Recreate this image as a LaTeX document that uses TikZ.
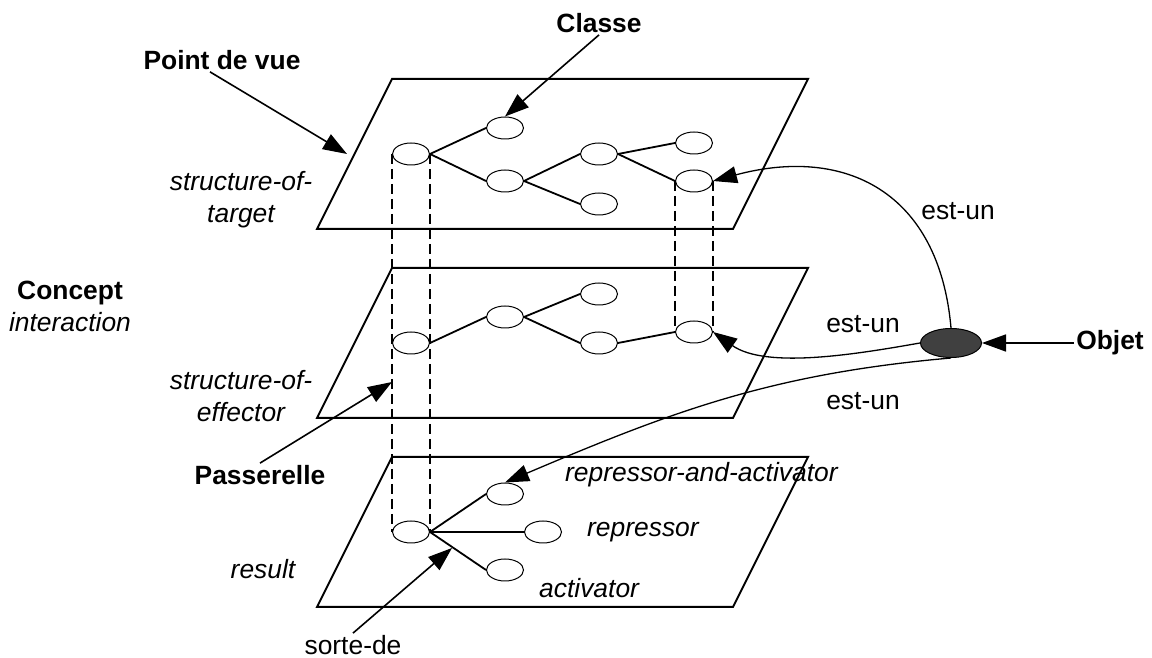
\documentclass[tikz,border=0pt]{standalone}
\usepackage{fontspec}
\setmainfont{Liberation Sans}
\usetikzlibrary{arrows.meta,shapes.geometric}
\tikzset{
  cls/.style={draw, ellipse, line width=1pt, minimum width=37pt, minimum height=22pt, inner sep=0pt},
  plane/.style={line width=2pt, line join=miter},
  edge/.style={line width=1.8pt},
  bridge/.style={line width=1.8pt, dash pattern=on 10pt off 5pt},
  arr/.style={->, line width=1.6pt},
  txt/.style={inner sep=2pt, font=\fontsize{26.4}{32}\selectfont},
  bold/.style={txt, font=\fontsize{26.4}{32}\selectfont\bfseries},
  ital/.style={txt, font=\fontsize{26.4}{32}\selectfont\itshape},
}
\begin{document}
\begin{tikzpicture}[>={Triangle[length=24pt,width=17pt]}, x=1pt, y=1pt]
\useasboundingbox (0,0) rectangle (1152,658);
\foreach \yy in {429,240,51}
  \draw[plane] (317,\yy)--(733,\yy)--(808,\yy+150)--(392,\yy+150)--cycle;

\node[cls] (t0) at (411,504) {};
\node[cls] (t1) at (505,530) {};
\node[cls] (t2) at (505,477) {};
\node[cls] (t3) at (599,504) {};
\node[cls] (t4) at (599,454) {};
\node[cls] (t5) at (694,515) {};
\node[cls] (t6) at (694,477) {};
\node[cls] (m0) at (411,315) {};
\node[cls] (m1) at (505,341) {};
\node[cls] (m2) at (599,364) {};
\node[cls] (m3) at (599,315) {};
\node[cls] (m4) at (694,326) {};
\node[cls] (b0) at (411,126) {};
\node[cls] (b1) at (505,164) {};
\node[cls] (b2) at (543,126) {};
\node[cls] (b3) at (505,88) {};
\node[draw, ellipse, fill=black!75, line width=1pt, minimum width=61pt, minimum height=29pt] (obj) at (951,315) {};

\foreach \a/\b in {t0/t1,t0/t2,t2/t3,t2/t4,t3/t5,t3/t6,m0/m1,m1/m2,m1/m3,m3/m4,b0/b1,b0/b2,b0/b3}
  \draw[edge] (\a.east)--(\b.west);
\foreach \a/\b in {t0/b0,t6/m4}{
  \draw[bridge] (\a.west)--(\b.west);
  \draw[bridge] (\a.east)--(\b.east);
}

\node[bold] (classe) at (599,635) {Classe};
\node[bold] (vue) at (222,598) {Point de vue};
\node[ital, align=center] (target) at (241,458) {structure-of-\\target};
\node[txt, align=center] (concept) at (70,352) {\textbf{Concept}\\\textit{interaction}};
\node[ital, align=center] (effector) at (241,262) {structure-of-\\effector};
\node[bold] (passerelle) at (260,183) {Passerelle};
\node[ital] (result) at (263,89) {result};
\node[ital, anchor=west] (ra) at (563,183) {repressor-and-activator};
\node[ital, anchor=west] (rep) at (585,126) {repressor};
\node[ital, anchor=west] (act) at (537,70) {activator};
\node[txt] (sorte) at (353,13) {sorte-de};
\node[bold] (objet) at (1110,315) {Objet};
\node[txt] (isa1) at (958,447) {est-un};
\node[txt] (isa2) at (863,334) {est-un};
\node[txt] (isa3) at (863,257) {est-un};

\coordinate (vueTip) at (347,504);
\coordinate (passTip) at (392,276);
\coordinate (sorteTip) at (452,110);
\draw[arr] (classe.south)--(t1.north);
\draw[arr] ([xshift=-12pt]vue.south)--(vueTip);
\draw[arr] (passerelle.north)--(passTip);
\draw[arr] (sorte.north)--(sorteTip);
\draw[arr] (objet.west)--(obj.east);
\draw[arr, line width=1.3pt] (obj.north) to[out=95, in=15, looseness=1.25] (t6.east);
\draw[arr, line width=1.3pt] (obj.west) to[out=190, in=-35, looseness=.8] (m4.east);
\draw[arr, line width=1.3pt] (obj.south) to[out=185, in=23] (b1.north);
\end{tikzpicture}
\end{document}
